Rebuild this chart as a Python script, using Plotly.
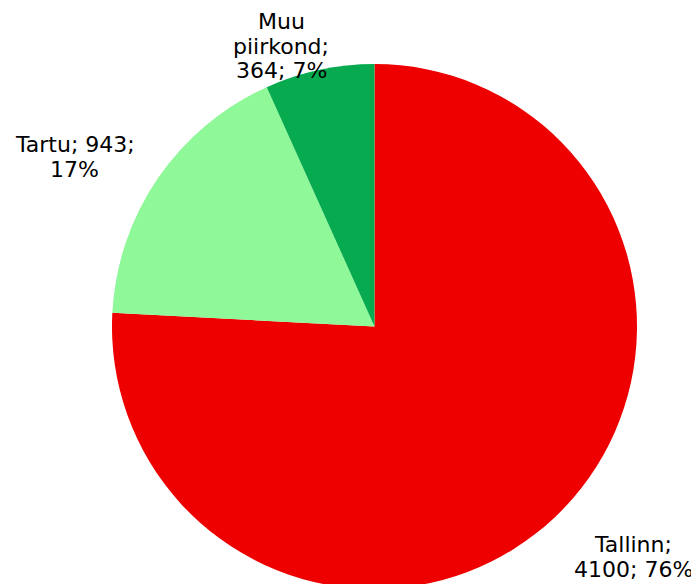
import plotly.graph_objects as go

# 数据
categories = ["Tallinn", "Tartu", "Muu piirkond"]
values = [4100, 943, 364]
colors = ["#EE0000", "#8FF898", "#07AA4F"]

# 页面 body 默认有 8px 外边距，图形整体向右下偏移 8px
OFF = 8
W, H = 699 - OFF, 600

total = sum(values)
pcts = [round(v / total * 100) for v in values]

# 标签文字（按原图换行）
label_lines = [
    [f"{categories[0]};", f"{values[0]}; {pcts[0]}%"],
    [f"{categories[1]}; {values[1]};", f"{pcts[1]}%"],
    ["Muu", "piirkond;", f"{values[2]}; {pcts[2]}%"],
]
# 标签中心 x 与首行中心 y（页面像素）
label_pos = [(633, 544), (74.5, 144), (281, 21)]
LINE_H = 25


def px_x(p):
    return (p - OFF) / W


def px_y(p):
    return 1 - (p - OFF) / H


# 饼图圆心与半径（页面像素）
cx, cy, r = 374.5, 326.5, 262.5

fig = go.Figure()

fig.add_trace(go.Pie(
    labels=categories,
    values=values,
    marker=dict(colors=colors, line=dict(width=0)),
    sort=False,
    direction='clockwise',
    rotation=0,
    textinfo='none',
    hoverinfo='label+value+percent',
    showlegend=False,
    domain=dict(x=[px_x(cx - 300), px_x(cx + 300)],
                y=[px_y(cy + r), px_y(cy - r)]),
))

for lines, (lx, ly) in zip(label_lines, label_pos):
    for i, line in enumerate(lines):
        fig.add_annotation(
            text=line,
            x=px_x(lx),
            y=px_y(ly + i * LINE_H),
            xref='paper',
            yref='paper',
            xanchor='center',
            yanchor='middle',
            showarrow=False,
            font=dict(family="DejaVu Sans, Verdana, sans-serif", size=22, color='black'),
        )

fig.update_layout(
    width=W,
    height=H,
    margin=dict(l=0, r=0, t=0, b=0),
    paper_bgcolor='white',
    plot_bgcolor='white',
)

fig.write_html("out.html")
